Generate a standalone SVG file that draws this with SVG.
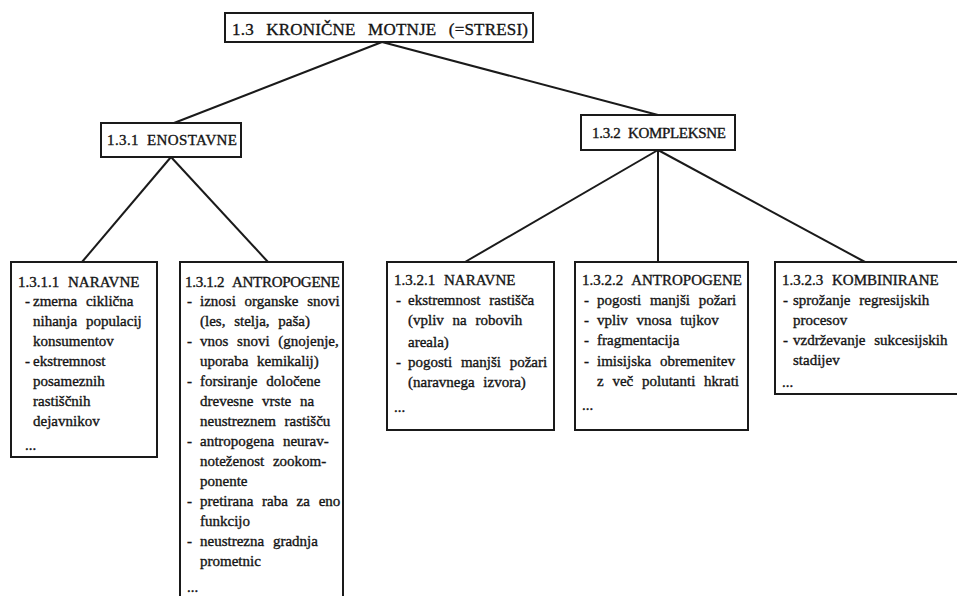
<svg xmlns="http://www.w3.org/2000/svg" width="957" height="596" viewBox="0 0 957 596">
<style>
  .box { fill: #ffffff; stroke: #1a1a1a; stroke-width: 2; }
  .edge { fill: none; stroke: #1a1a1a; stroke-width: 2; }
  text { font-family: "Liberation Serif", "DejaVu Serif", serif; fill: #141414; stroke: #141414; stroke-width: 0.35; }
  .t1 { font-size: 17px; word-spacing: 8px; }
  .t2 { font-size: 15px; word-spacing: 4px; }
  .hd { font-size: 15px; word-spacing: 5px; }
  .bd { font-size: 15px; word-spacing: 5px; }
</style>
<rect width="957" height="596" fill="#ffffff"/>

<g id="connectors">
  <path class="edge" d="M382,42 L174,123"/>
  <path class="edge" d="M382,42 L658,115"/>
  <path class="edge" d="M171,157 L82,262"/>
  <path class="edge" d="M171,157 L268,262"/>
  <path class="edge" d="M658,150 L465,262"/>
  <path class="edge" d="M658,150 L658,262"/>
  <path class="edge" d="M658,150 L865,262"/>
</g>

<g id="n13">
  <rect class="box" x="225" y="13" width="308" height="29"/>
  <text class="t1" x="232" y="35" textLength="296" lengthAdjust="spacing">1.3 KRONIČNE MOTNJE (=STRESI)</text>
</g>

<g id="n131">
  <rect class="box" x="101" y="123" width="140" height="34"/>
  <text class="t2" x="107" y="145" textLength="130" lengthAdjust="spacing">1.3.1 ENOSTAVNE</text>
</g>

<g id="n132">
  <rect class="box" x="581" y="115" width="154" height="35"/>
  <text class="t2" x="592" y="138" textLength="134" lengthAdjust="spacing">1.3.2 KOMPLEKSNE</text>
</g>

<g id="n1311">
  <rect class="box" x="11" y="262" width="146" height="195"/>
  <text class="hd" x="18" y="287">1.3.1.1 NARAVNE</text>
  <text class="bd" x="25" y="306">-</text>
  <text class="bd" x="33" y="306">zmerna ciklična</text>
  <text class="bd" x="33" y="326">nihanja populacij</text>
  <text class="bd" x="33" y="346">konsumentov</text>
  <text class="bd" x="25" y="366">-</text>
  <text class="bd" x="33" y="366">ekstremnost</text>
  <text class="bd" x="33" y="386">posameznih</text>
  <text class="bd" x="33" y="406">rastiščnih</text>
  <text class="bd" x="33" y="426">dejavnikov</text>
  <text class="bd" x="25" y="450">...</text>
</g>

<g id="n1312">
  <path class="box" d="M180,600 L180,262 L343,262 L343,600"/>
  <text class="hd" x="185" y="287" textLength="155" lengthAdjust="spacing">1.3.1.2 ANTROPOGENE</text>
  <text class="bd" x="187" y="306">-</text>
  <text class="bd" x="200" y="306">iznosi organske snovi</text>
  <text class="bd" x="200" y="326">(les, stelja, paša)</text>
  <text class="bd" x="187" y="346">-</text>
  <text class="bd" x="200" y="346">vnos snovi (gnojenje,</text>
  <text class="bd" x="200" y="366">uporaba kemikalij)</text>
  <text class="bd" x="187" y="386">-</text>
  <text class="bd" x="200" y="386">forsiranje določene</text>
  <text class="bd" x="200" y="406">drevesne vrste na</text>
  <text class="bd" x="200" y="426">neustreznem rastišču</text>
  <text class="bd" x="187" y="446">-</text>
  <text class="bd" x="200" y="446">antropogena neurav-</text>
  <text class="bd" x="200" y="466">noteženost zookom-</text>
  <text class="bd" x="200" y="486">ponente</text>
  <text class="bd" x="187" y="506">-</text>
  <text class="bd" x="200" y="506">pretirana raba za eno</text>
  <text class="bd" x="200" y="526">funkcijo</text>
  <text class="bd" x="187" y="546">-</text>
  <text class="bd" x="200" y="546">neustrezna gradnja</text>
  <text class="bd" x="200" y="566">prometnic</text>
  <text class="bd" x="187" y="592">...</text>
</g>

<g id="n1321">
  <rect class="box" x="387" y="262" width="167" height="168"/>
  <text class="hd" x="394" y="285">1.3.2.1 NARAVNE</text>
  <text class="bd" x="396" y="305">-</text>
  <text class="bd" x="408" y="305">ekstremnost rastišča</text>
  <text class="bd" x="408" y="325">(vpliv na robovih</text>
  <text class="bd" x="408" y="347">areala)</text>
  <text class="bd" x="396" y="367">-</text>
  <text class="bd" x="408" y="367">pogosti manjši požari</text>
  <text class="bd" x="408" y="387">(naravnega izvora)</text>
  <text class="bd" x="394" y="412">...</text>
</g>

<g id="n1322">
  <rect class="box" x="575" y="262" width="173" height="168"/>
  <text class="hd" x="582" y="285" textLength="160" lengthAdjust="spacing">1.3.2.2 ANTROPOGENE</text>
  <text class="bd" x="584" y="305">-</text>
  <text class="bd" x="597" y="305">pogosti manjši požari</text>
  <text class="bd" x="584" y="325">-</text>
  <text class="bd" x="597" y="325">vpliv vnosa tujkov</text>
  <text class="bd" x="584" y="345">-</text>
  <text class="bd" x="597" y="345">fragmentacija</text>
  <text class="bd" x="584" y="366">-</text>
  <text class="bd" x="597" y="366">imisijska obremenitev</text>
  <text class="bd" x="597" y="386">z več polutanti hkrati</text>
  <text class="bd" x="582" y="410">...</text>
</g>

<g id="n1323">
  <path class="box" d="M962,262 L775,262 L775,394 L962,394"/>
  <text class="hd" x="782" y="285">1.3.2.3 KOMBINIRANE</text>
  <text class="bd" x="783" y="305">-</text>
  <text class="bd" x="793" y="305">sprožanje regresijskih</text>
  <text class="bd" x="793" y="325">procesov</text>
  <text class="bd" x="783" y="345">-</text>
  <text class="bd" x="793" y="345">vzdrževanje sukcesijskih</text>
  <text class="bd" x="793" y="365">stadijev</text>
  <text class="bd" x="782" y="387">...</text>
</g>
</svg>
